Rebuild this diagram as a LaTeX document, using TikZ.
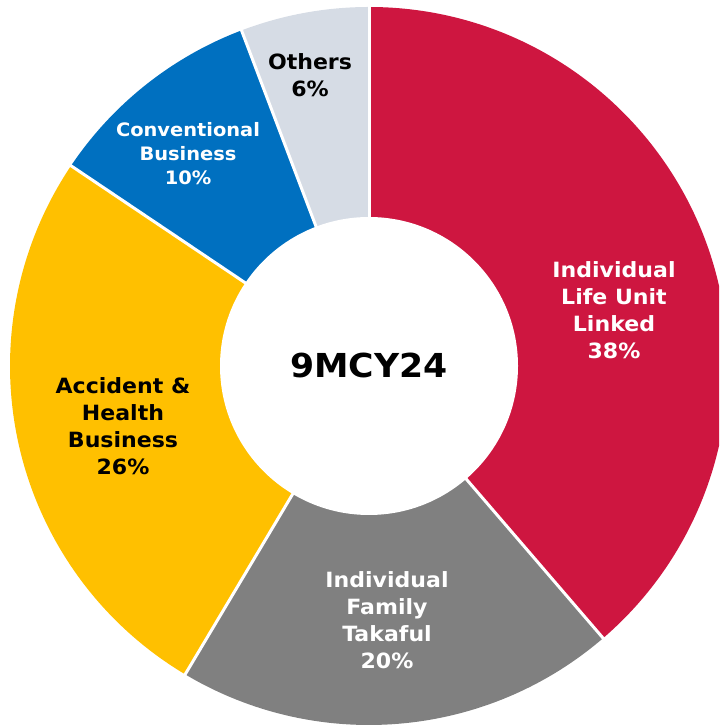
\documentclass[tikz,border=0pt]{standalone}
\usepackage{fontspec}
\newfontfamily\lab{DejaVu Sans}[FakeStretch=1.05]
\newfontfamily\ctrfont{DejaVu Sans}[FakeStretch=1.05]
\definecolor{cred}{RGB}{206,22,64}
\definecolor{cgray}{RGB}{128,128,128}
\definecolor{cyellow}{RGB}{255,192,0}
\definecolor{cblue}{RGB}{0,112,192}
\definecolor{cother}{RGB}{214,220,229}
\begin{document}
\begin{tikzpicture}[x=1pt,y=1pt,
  sep/.style={draw=white,line width=3pt},
  lbl/.style={align=center,font=\lab\bfseries\fontsize{21}{27}\selectfont,inner sep=0pt},
  lblsmall/.style={align=center,font=\lab\bfseries\fontsize{18.5}{24}\selectfont,inner sep=0pt}]
\useasboundingbox (0,0) rectangle (719,727);
\clip (0,0) rectangle (719,727);
\coordinate (c) at (369,361);
\def\R{359}
\def\r{149}
% sectors
\fill[cred] (c) -- ++(90:\R) arc[start angle=90,end angle=-49.3,radius=\R] -- cycle;
\fill[cgray] (c) -- ++(-49.3:\R) arc[start angle=-49.3,end angle=-120.8,radius=\R] -- cycle;
\fill[cyellow] (c) -- ++(-120.8:\R) arc[start angle=-120.8,end angle=-213.9,radius=\R] -- cycle;
\fill[cblue] (c) -- ++(-213.9:\R) arc[start angle=-213.9,end angle=-249.2,radius=\R] -- cycle;
\fill[cother] (c) -- ++(-249.2:\R) arc[start angle=-249.2,end angle=-270,radius=\R] -- cycle;
% separators
\foreach \a in {90,-49.3,-120.8,-213.9,-249.2}
  \draw[sep] (c) -- ++(\a:\R+5);
% hole
\fill[white] (c) circle[radius=\r];
% labels
\node[lbl,text=black,font=\ctrfont\bfseries\fontsize{33}{40}\selectfont] (center) at (369,362) {9MCY24};
\node[lbl,text=white] (ulink) at (614,417) {Individual\\Life Unit\\Linked\\38\%};
\node[lbl,text=white] (takaful) at (387,107) {Individual\\Family\\Takaful\\20\%};
\node[lbl,text=black] (ah) at (123,301) {Accident \&\\Health\\Business\\26\%};
\node[lblsmall,text=white] (conv) at (188,573) {Conventional\\Business\\10\%};
\node[lbl,text=black] (others) at (310,652) {Others\\6\%};
\end{tikzpicture}
\end{document}
